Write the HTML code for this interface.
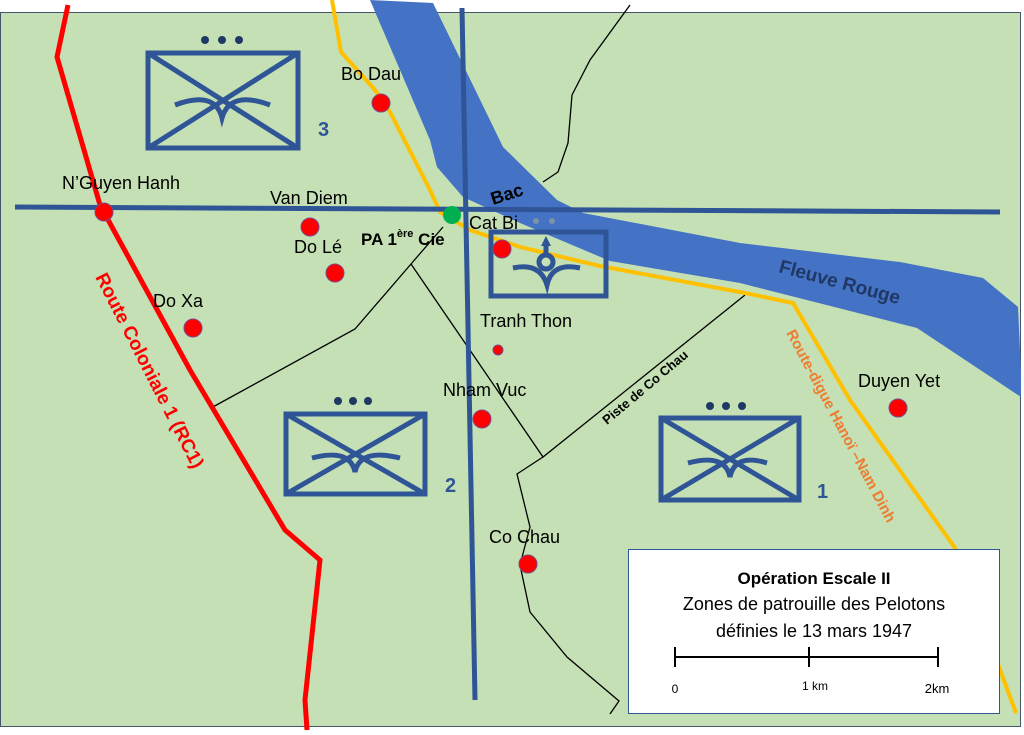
<!DOCTYPE html>
<html><head><meta charset="utf-8"><style>
html,body{margin:0;padding:0;background:#fff;}
svg{display:block;}
text{font-family:"Liberation Sans",sans-serif;}
</style></head><body>
<svg width="1024" height="735" viewBox="0 0 1024 735" xmlns="http://www.w3.org/2000/svg">
<rect x="0" y="0" width="1024" height="735" fill="#fff"/>
<rect x="0.5" y="12.5" width="1020" height="714" fill="#c5e0b4" stroke="#44546a" stroke-width="1"/>
<polygon fill="#4472c4" points="370,0 433,3 503,147 557,200 583,213 740,243 900,262 983,278 1018,307 1021,373 1021,397 917,328 740,283 610,261 520,223 463,197 437,167 430,140"/>
<g fill="none" stroke="#000" stroke-width="1.3">
<polyline points="630,5 590,60 572,95 568,143 558,172 543,182"/>
<polyline points="443,227 411,264 355,329 211,408"/>
<polyline points="411,264 543,457 745,295"/>
<polyline points="543,457 517,474 530,527 520,565 530,612 567,657 619,701 610,714"/>
</g>
<polyline fill="none" stroke="#ffc000" stroke-width="4" points="332,0 341,52 375,90 390,112 430,190 440,212 470,230 520,247 600,266 745,293 793,303 850,400 955,548 1016,713"/>
<polyline fill="none" stroke="#ff0000" stroke-width="5" points="68,5 57,57 100,205 190,370 285,530 320,560 305,700 307,730"/>
<line x1="15" y1="207" x2="1000" y2="212" stroke="#2f5597" stroke-width="5"/>
<line x1="462" y1="8" x2="475" y2="700" stroke="#2f5597" stroke-width="5"/>
<g fill="none" stroke="#2f5597" stroke-width="5">
<rect x="148" y="53" width="150" height="95"/>
<line x1="148" y1="53" x2="298" y2="148"/><line x1="298" y1="53" x2="148" y2="148"/>
<path d="M175,105 Q215,90 222,118 Q230,90 270,105"/>
<rect x="286" y="414" width="139" height="80"/>
<line x1="286" y1="414" x2="425" y2="494"/><line x1="425" y1="414" x2="286" y2="494"/>
<path d="M312,458 Q350,448 355,472 Q360,448 400,458"/>
<rect x="661" y="418" width="138" height="82"/>
<line x1="661" y1="418" x2="799" y2="500"/><line x1="799" y1="418" x2="661" y2="500"/>
<path d="M688,463 Q725,453 730,477 Q735,453 767,463"/>
<rect x="491" y="232" width="115" height="64"/>
<path d="M513,268 Q540,262 547,285 Q552,262 580,268"/>
<circle cx="546" cy="262" r="7"/>
<line x1="546" y1="255" x2="546" y2="244"/>
</g>
<polygon points="546,236 541,246 551,246" fill="#2f5597"/>
<g fill="#1f3864">
<circle cx="205" cy="40" r="4"/><circle cx="222" cy="40" r="4"/><circle cx="239" cy="40" r="4"/>
<circle cx="338" cy="401" r="4"/><circle cx="353" cy="401" r="4"/><circle cx="368" cy="401" r="4"/>
<circle cx="710" cy="406" r="4"/><circle cx="726" cy="406" r="4"/><circle cx="742" cy="406" r="4"/>
</g>
<circle cx="536" cy="221" r="3" fill="#7f8fa8"/><circle cx="552" cy="221" r="3" fill="#7f8fa8"/>
<g fill="#ff0000" stroke="#7a4a8a" stroke-width="1">
<circle cx="381" cy="103" r="9"/><circle cx="104" cy="212" r="9"/><circle cx="310" cy="227" r="9"/>
<circle cx="335" cy="273" r="9"/><circle cx="193" cy="328" r="9"/><circle cx="502" cy="249" r="9"/>
<circle cx="498" cy="350" r="5"/><circle cx="482" cy="419" r="9"/><circle cx="528" cy="564" r="9"/>
<circle cx="898" cy="408" r="9"/>
</g>
<circle cx="452" cy="215" r="9" fill="#00b050"/>
<g font-size="18" fill="#000">
<text x="341" y="80">Bo Dau</text>
<text x="62" y="189">N’Guyen Hanh</text>
<text x="270" y="204">Van Diem</text>
<text x="294" y="253">Do Lé</text>
<text x="153" y="307">Do Xa</text>
<text x="469" y="229">Cat Bi</text>
<text x="480" y="327">Tranh Thon</text>
<text x="443" y="396">Nham Vuc</text>
<text x="489" y="543">Co Chau</text>
<text x="858" y="387">Duyen Yet</text>
</g>
<text x="361" y="245" font-size="17" font-weight="bold">PA 1<tspan font-size="11" dy="-8">ère</tspan><tspan dy="8"> Cie</tspan></text>
<text x="0" y="0" font-size="18" font-weight="bold" transform="translate(493,205) rotate(-18)">Bac</text>
<g font-size="20" font-weight="bold" fill="#2f5597">
<text x="318" y="136">3</text><text x="445" y="492">2</text><text x="817" y="498">1</text>
</g>
<text font-size="19" font-weight="bold" fill="#1f3864" transform="translate(778,272) rotate(15)">Fleuve Rouge</text>
<text font-size="13" font-weight="bold" fill="#000" transform="translate(607,425) rotate(-40)">Piste de Co Chau</text>
<text font-size="15" font-weight="bold" fill="#ed7d31" transform="translate(786,333) rotate(62)">Route-digue  Hanoï –Nam Dinh</text>
<text font-size="19" font-weight="bold" fill="#ff0000" transform="translate(95,277) rotate(63)">Route Coloniale 1 (RC1)</text>
<rect x="628.5" y="549.5" width="371" height="164" fill="#fff" stroke="#2f5597" stroke-width="1"/>
<text x="814" y="584" font-size="17" font-weight="bold" text-anchor="middle">Opération Escale II</text>
<text x="814" y="610" font-size="18" text-anchor="middle">Zones de patrouille des Pelotons</text>
<text x="814" y="637" font-size="18" text-anchor="middle">définies le 13 mars 1947</text>
<g stroke="#000" stroke-width="2">
<line x1="675" y1="657" x2="938" y2="657"/>
<line x1="675" y1="647" x2="675" y2="667"/>
<line x1="809" y1="647" x2="809" y2="667"/>
<line x1="938" y1="647" x2="938" y2="667"/>
</g>
<text x="675" y="693" font-size="12" text-anchor="middle">0</text>
<text x="815" y="690" font-size="12" text-anchor="middle">1 km</text>
<text x="937" y="693" font-size="13" text-anchor="middle">2km</text>
</svg>
</body></html>
